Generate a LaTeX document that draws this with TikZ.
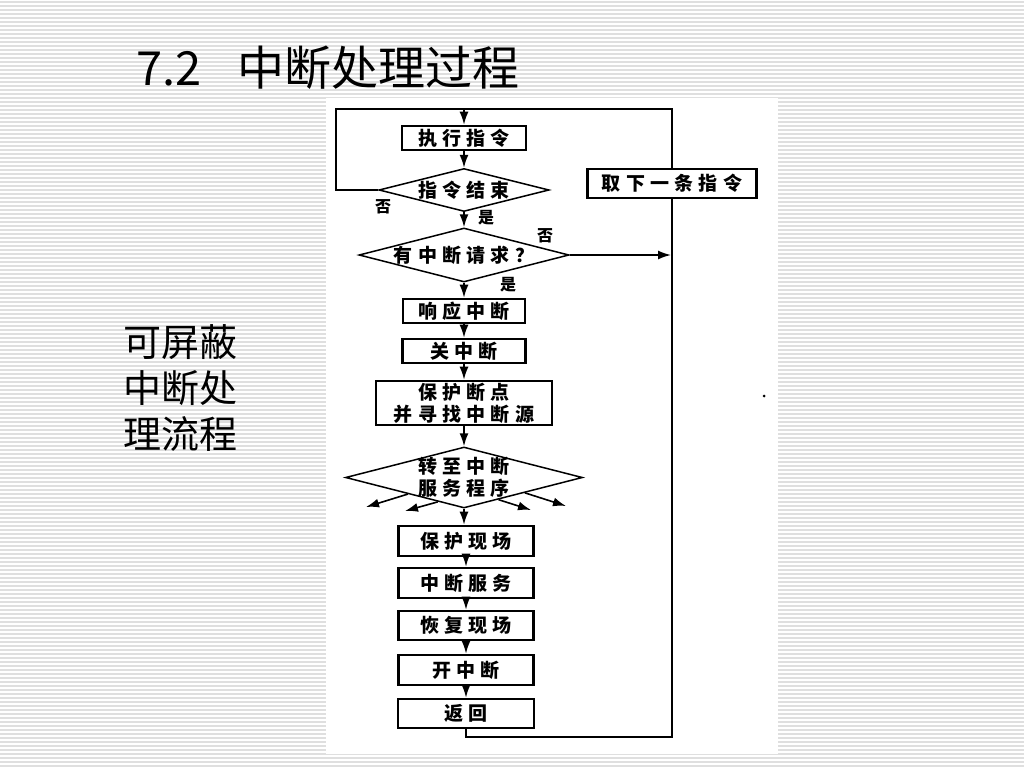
\documentclass[tikz,border=0pt]{standalone}
\usepackage{fontspec}
\usetikzlibrary{shapes.geometric,arrows.meta,calc}
\newfontfamily\cjk{Noto Sans CJK SC}
\newfontfamily\boxfont[LetterSpace=28]{Noto Sans CJK SC}
\tikzset{
	stripe/.style={gray!25, line width=1.3pt},
	stepbox/.style={draw, line width=2.6pt, inner sep=0pt, align=center,
		font=\boxfont\bfseries\fontsize{19}{22}\selectfont},
	decision/.style={draw, diamond, line width=1.5pt, inner sep=0pt},
	decisiontext/.style={align=center, font=\boxfont\bfseries\fontsize{19}{22}\selectfont},
	line/.style={line width=1.6pt},
	arrow/.style={line, -{Latex[length=13pt,width=9pt]}},
	branch/.style={font=\cjk\bfseries\fontsize{16}{16}\selectfont}
}

\begin{document}
\begin{tikzpicture}[x=1pt,y=-1pt]
	\useasboundingbox (0,0) rectangle (1024,768);
	% background
	\fill[white] (0,0) rectangle (1024,768);
	\foreach \y in {2,6,...,766}
		\draw[stripe] (0,\y) -- (1024,\y);
	\fill[white] (326,98) rectangle (778,754);

	\node[anchor=base west, font=\cjk\fontsize{47}{47}\selectfont] (title) at (133,85) {7.2\hspace{36pt}中断处理过程};
	\node[anchor=north west, align=left, font=\cjk\fontsize{38}{46}\selectfont] (side) at (120,321) {可屏蔽\\中断处\\理流程};

	% main column
	\node[stepbox, minimum width=124pt, minimum height=24pt] (exec) at (464,138) {执行指令};
	\node[decision, minimum width=170pt, minimum height=43pt] (done) at (464,190) {};
	\node[decisiontext] at (done) {指令结束};
	\node[decision, minimum width=210pt, minimum height=54pt] (req) at (464,255) {};
	\node[decisiontext] at (req) {有中断请求？};
	\node[stepbox, minimum width=122pt, minimum height=24pt] (ack) at (464,311) {响应中断};
	\node[stepbox, minimum width=123pt, minimum height=24pt] (cli) at (464,351) {关中断};
	\node[stepbox, minimum width=176pt, minimum height=44pt] (save) at (464,403) {保护断点\\并寻找中断源};
	\node[decision, minimum width=237pt, minimum height=61pt] (jump) at (464,477.5) {};
	\node[decisiontext] at (jump) {转至中断\\服务程序};
	\node[stepbox, minimum width=135pt, minimum height=30pt] (push) at (466,541) {保护现场};
	\node[stepbox, minimum width=135pt, minimum height=30pt] (serve) at (466,583) {中断服务};
	\node[stepbox, minimum width=135pt, minimum height=29pt] (pop) at (466,625.5) {恢复现场};
	\node[stepbox, minimum width=135pt, minimum height=30pt] (sti) at (466,670) {开中断};
	\node[stepbox, minimum width=136pt, minimum height=29pt] (ret) at (466,713.5) {返回};
	\node[stepbox, minimum width=169pt, minimum height=29pt] (next) at (672,183.5) {取下一条指令};

	\coordinate (topL) at (336,109);
	\coordinate (topM) at (464,109);
	\coordinate (bot) at (672,737);
	\coordinate (o1) at (366,507);
	\coordinate (o2) at (405,511);
	\coordinate (o3) at (531,510);
	\coordinate (o4) at (566,506);

	\draw[arrow] (exec.south) -- (done.north);
	\draw[arrow] (done.south) -- (req.north);
	\draw[arrow] (req.south) -- (ack.north);
	\draw[arrow] (ack.south) -- (cli.north);
	\draw[arrow] (cli.south) -- (save.north);
	\draw[arrow] (save.south) -- (jump.north);
	\draw[arrow] (jump.south) -- (push.north -| jump.south);
	\draw[arrow] (push.south) -- (serve.north);
	\draw[arrow] (serve.south) -- (pop.north);
	\draw[arrow] (pop.south) -- (sti.north);
	\draw[arrow] (sti.south) -- (ret.north);

	% loops
	\draw[line] (done.west) -| (topL) -- (topM);
	\draw[arrow] (next.north) |- (topM) -- (exec.north);
	\draw[line] (ret.south) |- (bot) -- (next.south);
	\draw[arrow] (req.east) -- ($(req.east -| next.south)+(-1,0)$);

	% branches of the service dispatch
	\draw[arrow] ($(jump.west)!0.53!(jump.south)$) -- (o1);
	\draw[arrow] ($(jump.west)!0.78!(jump.south)$) -- (o2);
	\draw[arrow] ($(jump.south)!0.29!(jump.east)$) -- (o3);
	\draw[arrow] ($(jump.south)!0.51!(jump.east)$) -- (o4);

	\node[branch] at (383,207) {否};
	\node[branch] at (486,218) {是};
	\node[branch] at (545,236) {否};
	\node[branch] at (508,285) {是};

	\fill (764,396) circle (1.5);
\end{tikzpicture}
\end{document}
